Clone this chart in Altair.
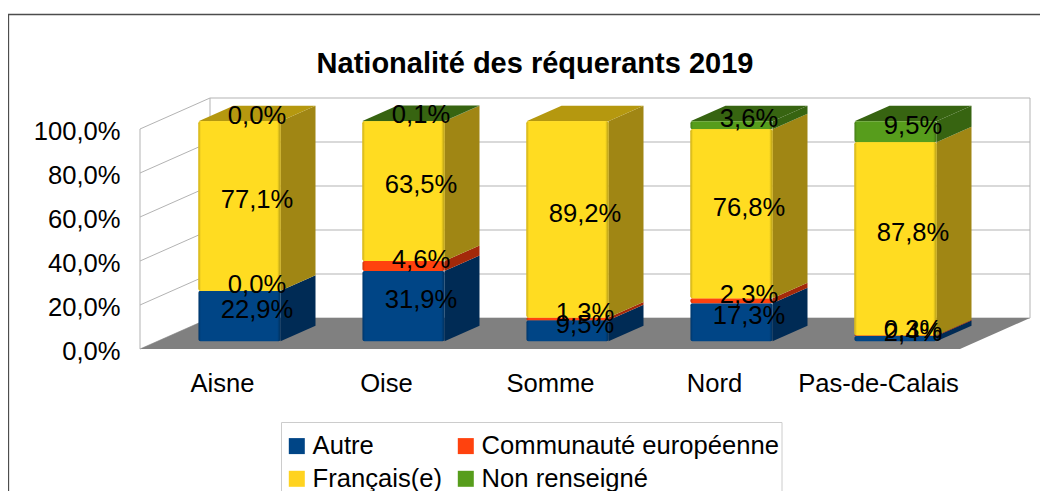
import altair as alt
import pandas as pd

# --- chart values -------------------------------------------------------
departments = ["Aisne", "Oise", "Somme", "Nord", "Pas-de-Calais"]
series_names = ["Autre", "Communauté européenne", "Français(e)", "Non renseigné"]
legend_order = ["Autre", "Français(e)", "Communauté européenne", "Non renseigné"]
autre = [22.9, 31.9, 9.5, 17.3, 2.4]
communaute = [0.0, 4.6, 1.3, 2.3, 0.3]
francais = [77.1, 63.5, 89.2, 76.8, 87.8]
non_renseigne = [0.0, 0.1, None, 3.6, 9.5]   # Somme carries no value
y_ticks = [0, 20, 40, 60, 80, 100]
front_colors = ["#004586", "#ff420e", "#ffd320", "#579d1c"]
side_colors = ["#002b55", "#a3290a", "#a08614", "#376411"]
top_colors = ["#003366", "#a3290a", "#b5980f", "#376411"]

# --- oblique projection ---------------------------------------------------
UNIT = 164.0         # px per category
PCT = 2.2            # px per percent
DX = 70.0 / UNIT     # full depth, in category units
DY = 31.0 / PCT      # full depth, in percent units
PLOT_W = 890
PLOT_H = 251
F = "Liberation Sans"
FS = 25.6

all_values = [autre, communaute, francais, non_renseigne]

fronts, sides, tops, labels = [], [], [], []
for i, dep in enumerate(departments):
    left = i + 0.25 + 0.25 * DX
    right = left + 0.5
    base = 0.0
    top_s = None
    for s, name in enumerate(series_names):
        v = all_values[s][i]
        if v is None:
            continue
        end = base + v
        labels.append({
            "x": i + 0.5 + 0.5 * DX,
            "y": base + v / 2 + 0.5 * DY,
            "t": f"{v:.1f}".replace(".", ",") + "%",
        })
        if v > 0:
            fronts.append({"x": left, "x2": right,
                           "y": base + 0.25 * DY, "y2": end + 0.25 * DY,
                           "series": name})
            sid = f"{i}-{s}"
            sides.append({"id": sid, "x": right, "y": base + 0.25 * DY,
                          "y2": end + 0.25 * DY, "c": side_colors[s]})
            sides.append({"id": sid, "x": right + 0.5 * DX, "y": base + 0.75 * DY,
                          "y2": end + 0.75 * DY, "c": side_colors[s]})
            top_s = s
        base = end
    tops.append({"id": i, "y": base + 0.25 * DY, "x": left, "x2": right, "c": top_colors[top_s]})
    tops.append({"id": i, "y": base + 0.75 * DY, "x": left + 0.5 * DX, "x2": right + 0.5 * DX, "c": top_colors[top_s]})

grid = []
for t in y_ticks:
    grid += [
        {"id": f"s{t}", "o": 0, "x": 0, "y": t},
        {"id": f"s{t}", "o": 1, "x": DX, "y": t + DY},
        {"id": f"s{t}", "o": 2, "x": 5 + DX, "y": t + DY},
    ]
for name, xv, y0 in [("a", 0, 0), ("b", DX, DY), ("c", 5 + DX, DY)]:
    grid += [
        {"id": name, "o": 0, "x": xv, "y": y0},
        {"id": name, "o": 1, "x": xv, "y": y0 + 100},
    ]

floor = [
    {"y": 0, "x": 0, "x2": 5},
    {"y": DY, "x": DX, "x2": 5 + DX},
]

# outer chart frame and legend box, in the same data units (run off the page)
frame_x0 = -131.5 / UNIT
frame_x1 = (PLOT_W + 20) / UNIT
frame_y0 = -(PLOT_H - 251 + 150) / PCT
frame_y1 = (PLOT_H + 83.5) / PCT
frame = [
    {"o": 0, "x": frame_x0, "y": frame_y0},
    {"o": 1, "x": frame_x0, "y": frame_y1},
    {"o": 2, "x": frame_x1, "y": frame_y1},
]
legend_box = [{"x": 141.5 / UNIT, "x2": 642 / UNIT, "y": -73.5 / PCT, "y2": -170 / PCT}]

x_scale = alt.Scale(domain=[0, 5 + DX], nice=False, zero=False)
y_scale = alt.Scale(domain=[0, 100 + DY], nice=False, zero=False)

label_expr = "{}[round(datum.value - 0.5)]".format(str(departments))
x_axis = alt.Axis(values=[0.5, 1.5, 2.5, 3.5, 4.5], labelExpr=label_expr,
                  domain=False, ticks=False, grid=False, labelFontSize=FS,
                  labelFont=F, labelColor="#000000", labelPadding=22,
                  labelAngle=0, labelBaseline="top", labelOverlap=False)
y_axis = alt.Axis(values=y_ticks,
                  labelExpr="replace(format(datum.value, '.1f'), '.', ',') + '%'",
                  domain=False, ticks=False, grid=False, labelFontSize=FS,
                  labelFont=F, labelColor="#000000", labelPadding=20,
                  labelOffset=2, labelOverlap=False)


def X(field="x"):
    return alt.X(f"{field}:Q", scale=x_scale, title=None, axis=x_axis)


def Y(field="y"):
    return alt.Y(f"{field}:Q", scale=y_scale, title=None, stack=None, axis=y_axis)


frame_layer = alt.Chart(pd.DataFrame(frame)).mark_line(
    color="#4d4d4d", strokeWidth=1.3, clip=False
).encode(x=X(), y=Y(), order="o:Q")

box_layer = alt.Chart(pd.DataFrame(legend_box)).mark_rect(
    fill="#ffffff", stroke="#cccccc", strokeWidth=1
).encode(x=X(), x2="x2:Q", y=Y(), y2="y2:Q")

grid_layer = alt.Chart(pd.DataFrame(grid)).mark_line(
    color="#b3b3b3", strokeWidth=1
).encode(x=X(), y=Y(), detail="id:N", order="o:Q")

floor_layer = alt.Chart(pd.DataFrame(floor)).mark_area(
    orient="horizontal", color="#808080"
).encode(x=X(), x2="x2:Q", y=Y())

side_layer = alt.Chart(pd.DataFrame(sides)).mark_area(interpolate="linear").encode(
    x=X(), y=Y(), y2="y2:Q", detail="id:N",
    fill=alt.Fill("c:N", scale=None),
)

top_layer = alt.Chart(pd.DataFrame(tops)).mark_area(orient="horizontal").encode(
    x=X(), x2="x2:Q", y=Y(), detail="id:N",
    fill=alt.Fill("c:N", scale=None),
)

front_layer = alt.Chart(pd.DataFrame(fronts)).mark_bar(cornerRadius=2).encode(
    x=X(), x2="x2:Q", y=Y(), y2="y2:Q",
    color=alt.Color(
        "series:N",
        scale=alt.Scale(domain=legend_order,
                        range=[front_colors[series_names.index(n)] for n in legend_order]),
        legend=alt.Legend(
            title=None, orient="none", legendX=144, legendY=335, columns=2,
            symbolType="square", symbolSize=256, symbolStrokeWidth=0,
            labelFont=F, labelFontSize=FS, labelColor="#000000", labelLimit=400,
            labelOffset=3, columnPadding=10, rowPadding=6, padding=0,
        ),
    ),
)

bright_layer = alt.Chart(
    pd.DataFrame([r for r in fronts if r["series"] == "Français(e)"])
).mark_bar(cornerRadius=2, color="#ffdc21").encode(x=X(), x2="x2:Q", y=Y(), y2="y2:Q")

shade_layer = alt.Chart(pd.DataFrame(fronts)).mark_bar(
    cornerRadius=2,
    fill=alt.Gradient(
        gradient="linear", x1=0, x2=1, y1=0, y2=0,
        stops=[
            alt.GradientStop(offset=0, color="rgba(0,0,0,0.22)"),
            alt.GradientStop(offset=0.03, color="rgba(0,0,0,0)"),
            alt.GradientStop(offset=0.96, color="rgba(0,0,0,0)"),
            alt.GradientStop(offset=1, color="rgba(0,0,0,0.3)"),
        ],
    ),
).encode(x=X(), x2="x2:Q", y=Y(), y2="y2:Q")

text_layer = alt.Chart(pd.DataFrame(labels)).mark_text(
    font=F, fontSize=FS, color="#000000", align="center", baseline="middle", dy=2
).encode(x=X(), y=Y(), text="t:N")

chart = alt.layer(
    frame_layer, box_layer, grid_layer, floor_layer, side_layer, top_layer,
    front_layer, bright_layer, shade_layer, text_layer,
).properties(
    width=PLOT_W,
    height=PLOT_H,
    title=alt.TitleParams(
        "Nationalité des réquerants 2019", font=F, fontSize=29, fontWeight="bold",
        color="#000000", anchor="middle", dx=-50, dy=85, offset=18,
    ),
    padding={"left": 132, "top": 90, "right": 10, "bottom": 142},
    autosize=alt.AutoSizeParams(type="none"),
    background="#ffffff",
).configure_view(stroke=None)

chart.save("out.html", embed_options={"renderer": "svg", "actions": False})
